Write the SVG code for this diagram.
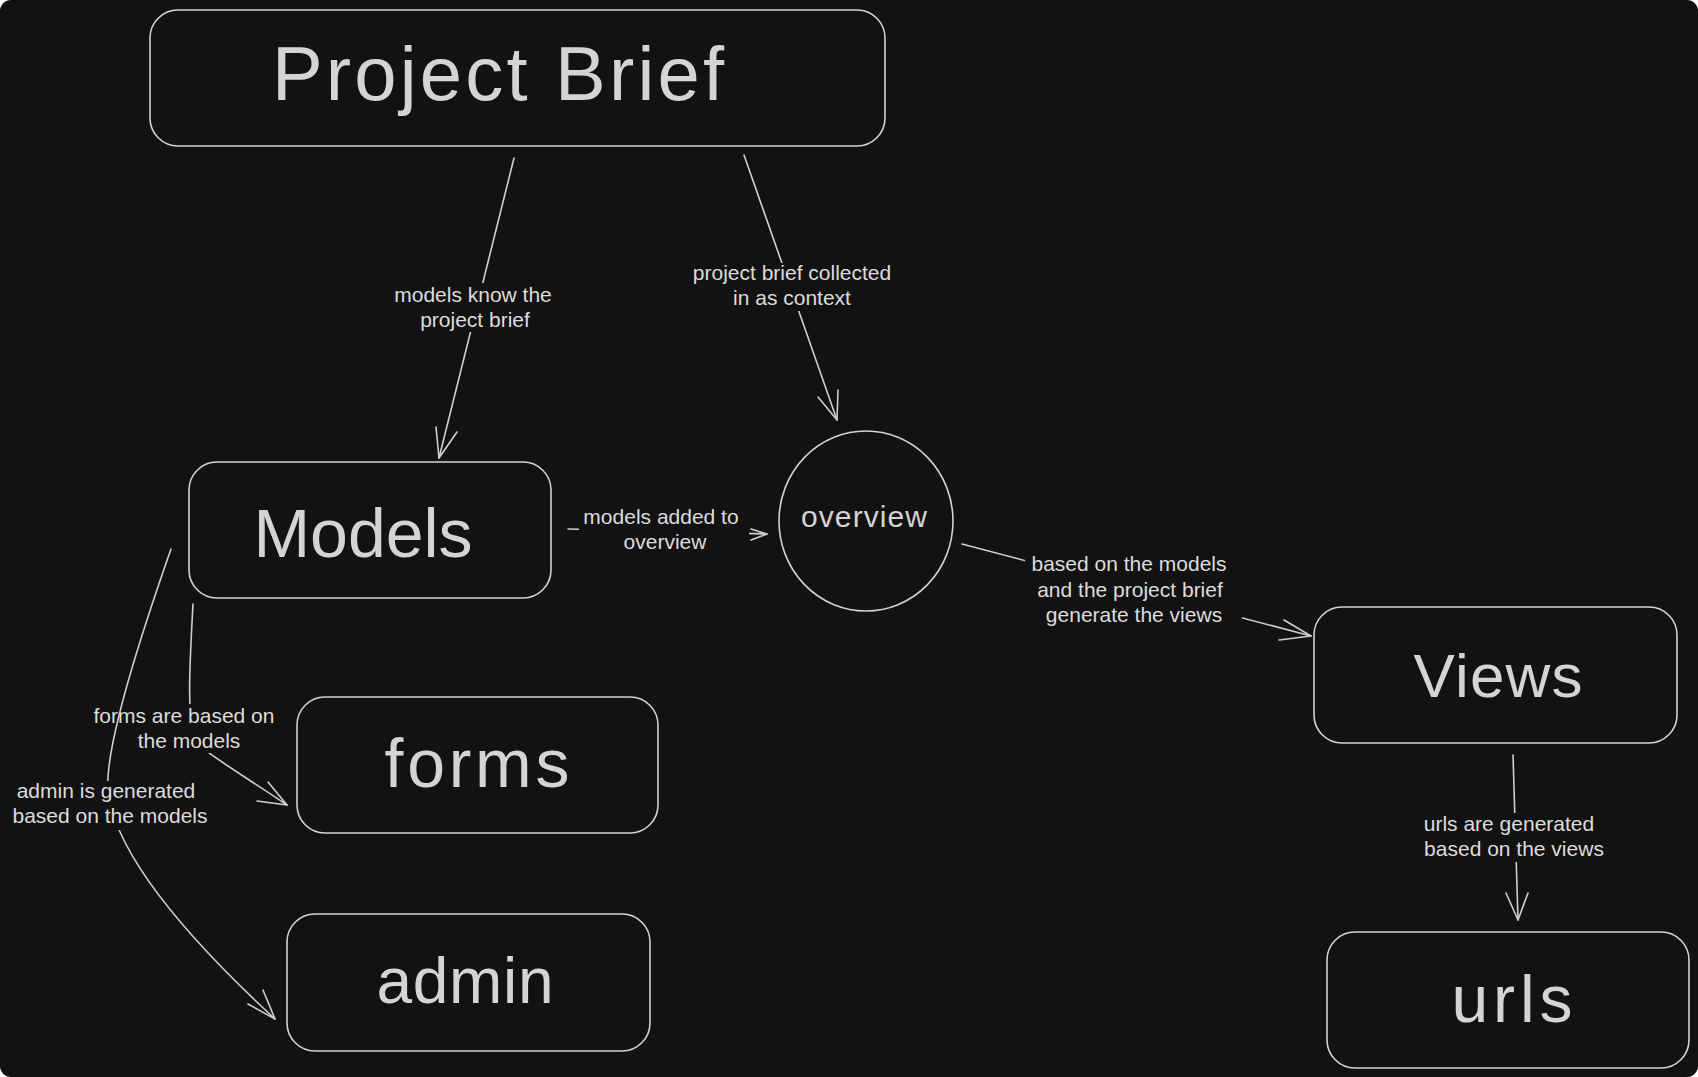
<svg xmlns="http://www.w3.org/2000/svg" width="1698" height="1077" viewBox="0 0 1698 1077">
  <style>
    .node { fill: #121212; stroke: #d2d2d2; stroke-width: 1.6; }
    .big { font-family: "Liberation Sans", Arial, sans-serif; fill: #d4d4d4; text-anchor: middle; }
    .lbl { font-family: "Liberation Sans", Arial, sans-serif; font-size: 21px; fill: #dcdcdc; text-anchor: middle; }
    .edge { fill: none; stroke: #cfcfcf; stroke-width: 1.6; stroke-linecap: round; stroke-linejoin: round; }
  </style>
  <defs>
    <mask id="m1" maskUnits="userSpaceOnUse" x="0" y="0" width="1698" height="1077">
      <rect width="1698" height="1077" fill="#fff"/>
      <rect x="380" y="283" width="190" height="49" fill="#000"/>
    </mask>
    <mask id="m2" maskUnits="userSpaceOnUse" x="0" y="0" width="1698" height="1077">
      <rect width="1698" height="1077" fill="#fff"/>
      <rect x="680" y="263" width="225" height="48" fill="#000"/>
    </mask>
    <mask id="m3" maskUnits="userSpaceOnUse" x="0" y="0" width="1698" height="1077">
      <rect width="1698" height="1077" fill="#fff"/>
      <rect x="579" y="505" width="170" height="50" fill="#000"/>
    </mask>
    <mask id="m4" maskUnits="userSpaceOnUse" x="0" y="0" width="1698" height="1077">
      <rect width="1698" height="1077" fill="#fff"/>
      <rect x="1025" y="548" width="217" height="80" fill="#000"/>
    </mask>
    <mask id="m5" maskUnits="userSpaceOnUse" x="0" y="0" width="1698" height="1077">
      <rect width="1698" height="1077" fill="#fff"/>
      <rect x="84" y="704" width="200" height="49" fill="#000"/>
    </mask>
    <mask id="m6" maskUnits="userSpaceOnUse" x="0" y="0" width="1698" height="1077">
      <rect width="1698" height="1077" fill="#fff"/>
      <rect x="5" y="781" width="210" height="49" fill="#000"/>
    </mask>
    <mask id="m7" maskUnits="userSpaceOnUse" x="0" y="0" width="1698" height="1077">
      <rect width="1698" height="1077" fill="#fff"/>
      <rect x="1412" y="813" width="202" height="49" fill="#000"/>
    </mask>
  </defs>

  <rect x="0" y="0" width="1698" height="1077" fill="#ffffff"/>
  <rect x="0" y="0" width="1698" height="1077" rx="11" fill="#121212"/>

  <g id="connectors">
    <g id="edge-brief-models">
      <path class="edge" mask="url(#m1)" d="M514,158 L439,458"/>
      <path class="edge" d="M436,427 L439,458 L457,432"/>
      <text class="lbl" x="473" y="302">models know the</text>
      <text class="lbl" x="475" y="327">project brief</text>
    </g>
    <g id="edge-brief-overview">
      <path class="edge" mask="url(#m2)" d="M744,155 L837,420"/>
      <path class="edge" d="M818,397 L837,420 L838,390"/>
      <text class="lbl" x="792" y="280">project brief collected</text>
      <text class="lbl" x="792" y="305">in as context</text>
    </g>
    <g id="edge-models-overview">
      <path class="edge" mask="url(#m3)" d="M568,529 L767,534"/>
      <path class="edge" d="M751,529 L767,534 L751,540"/>
      <text class="lbl" x="661" y="524">models added to</text>
      <text class="lbl" x="665" y="549">overview</text>
    </g>
    <g id="edge-overview-views">
      <path class="edge" mask="url(#m4)" d="M962,544 L1311,636"/>
      <path class="edge" d="M1284,620 L1311,636 L1279,640"/>
      <text class="lbl" x="1129" y="571">based on the models</text>
      <text class="lbl" x="1130" y="597">and the project brief</text>
      <text class="lbl" x="1134" y="622">generate the views</text>
    </g>
    <g id="edge-models-forms">
      <path class="edge" mask="url(#m5)" d="M193,604 C190,660 186,720 196,740 C204,752 215,757 287,805"/>
      <path class="edge" d="M268,782 L287,805 L257,801"/>
      <text class="lbl" x="184" y="723">forms are based on</text>
      <text class="lbl" x="189" y="748">the models</text>
    </g>
    <g id="edge-models-admin">
      <path class="edge" mask="url(#m6)" d="M171,549 Q104,740 108,790 Q116,872 275,1019"/>
      <path class="edge" d="M248,1004 L275,1019 L263,990"/>
      <text class="lbl" x="106" y="798">admin is generated</text>
      <text class="lbl" x="110" y="823">based on the models</text>
    </g>
    <g id="edge-views-urls">
      <path class="edge" mask="url(#m7)" d="M1513,755 L1518,920"/>
      <path class="edge" d="M1506,893 L1518,920 L1528,893"/>
      <text class="lbl" x="1509" y="831">urls are generated</text>
      <text class="lbl" x="1514" y="856">based on the views</text>
    </g>
  </g>

  <g id="node-project-brief">
    <rect class="node" x="150" y="10" width="735" height="136" rx="28"/>
    <text class="big" x="498" y="100" font-size="76" textLength="452" lengthAdjust="spacing">Project Brief</text>
  </g>
  <g id="node-models">
    <rect class="node" x="189" y="462" width="362" height="136" rx="28"/>
    <text class="big" x="363" y="557" font-size="68" textLength="219" lengthAdjust="spacing">Models</text>
  </g>
  <g id="node-overview">
    <ellipse class="node" cx="866" cy="521" rx="87" ry="90"/>
    <text class="big" x="864" y="527" font-size="30" textLength="126" lengthAdjust="spacing">overview</text>
  </g>
  <g id="node-views">
    <rect class="node" x="1314" y="607" width="363" height="136" rx="28"/>
    <text class="big" x="1498" y="697" font-size="62" textLength="169" lengthAdjust="spacing">Views</text>
  </g>
  <g id="node-forms">
    <rect class="node" x="297" y="697" width="361" height="136" rx="28"/>
    <text class="big" x="477" y="787" font-size="68" textLength="185" lengthAdjust="spacing">forms</text>
  </g>
  <g id="node-admin">
    <rect class="node" x="287" y="914" width="363" height="137" rx="28"/>
    <text class="big" x="465" y="1003" font-size="64" textLength="177" lengthAdjust="spacing">admin</text>
  </g>
  <g id="node-urls">
    <rect class="node" x="1327" y="932" width="362" height="136" rx="28"/>
    <text class="big" x="1512" y="1022" font-size="66" textLength="121" lengthAdjust="spacing">urls</text>
  </g>
</svg>
